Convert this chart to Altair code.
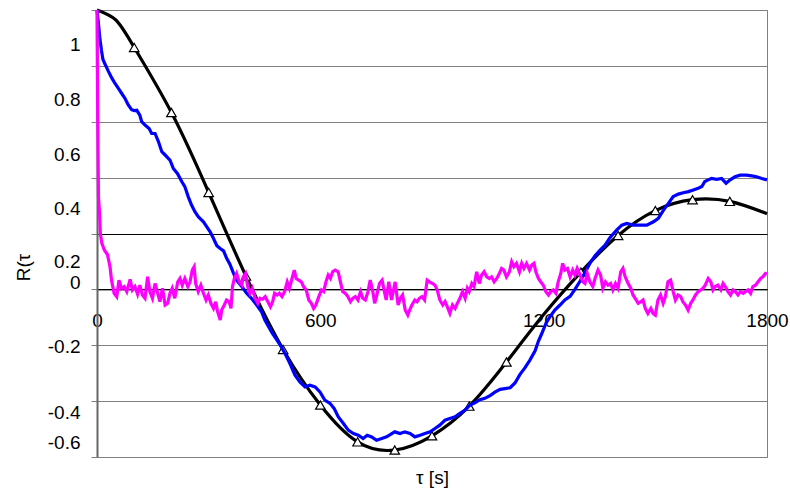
import altair as alt
import pandas as pd

# ---------------- data ----------------
tau_black = [0, 50, 100, 200, 300, 400, 500, 600, 700, 800, 900, 1000,
             1100, 1200, 1300, 1400, 1500, 1600, 1700, 1800]
r_black = [1.0, 0.965, 0.866, 0.633, 0.347, 0.048, -0.215, -0.414, -0.546, -0.575,
           -0.524, -0.418, -0.26, -0.09, 0.062, 0.193, 0.282, 0.321, 0.315, 0.271]
marker_tau = [100, 200, 300, 400, 500, 600, 700, 800, 900, 1000, 1100,
              1300, 1400, 1500, 1600, 1700]

tau_blue = [0, 4, 8, 12, 16, 22, 30, 40, 48, 57, 66, 75, 84, 93, 100, 107, 115, 120,
            129, 140, 147, 156, 165, 174, 183, 196, 205, 216, 228, 236, 245, 254, 263,
            272, 286, 295, 304, 313, 322, 331, 340, 348, 357, 366, 375, 389, 402, 415,
            429, 442, 451, 470, 492, 505, 518, 532, 545, 559, 572, 586, 599, 612, 626,
            637, 648, 662, 675, 689, 702, 715, 726, 738, 751, 765, 778, 792, 800, 814,
            827, 841, 854, 868, 881, 895, 908, 921, 935, 948, 962, 975, 989, 1002, 1015,
            1029, 1042, 1056, 1069, 1083, 1096, 1110, 1123, 1136, 1150, 1163, 1177, 1186,
            1195, 1206, 1217, 1230, 1244, 1257, 1271, 1284, 1298, 1311, 1324, 1338, 1351,
            1365, 1378, 1396, 1410, 1423, 1441, 1459, 1477, 1495, 1508, 1522, 1535, 1548,
            1562, 1575, 1589, 1602, 1615, 1625, 1633, 1642, 1651, 1665, 1678, 1690, 1701,
            1714, 1728, 1745, 1759, 1772, 1786, 1800]
r_blue = [1.0, 0.95, 0.895, 0.855, 0.823, 0.805, 0.782, 0.756, 0.738, 0.72, 0.702, 0.684,
          0.66, 0.643, 0.64, 0.641, 0.624, 0.6, 0.588, 0.576, 0.558, 0.558, 0.529, 0.493,
          0.481, 0.463, 0.433, 0.415, 0.385, 0.368, 0.332, 0.302, 0.278, 0.26, 0.242, 0.224,
          0.206, 0.182, 0.156, 0.146, 0.138, 0.112, 0.09, 0.06, 0.033, 0.01, -0.014, -0.032,
          -0.056, -0.08, -0.11, -0.155, -0.199, -0.229, -0.265, -0.307, -0.331, -0.349,
          -0.343, -0.349, -0.367, -0.396, -0.408, -0.426, -0.456, -0.48, -0.504, -0.516,
          -0.522, -0.534, -0.522, -0.528, -0.54, -0.534, -0.528, -0.516, -0.51, -0.516,
          -0.51, -0.516, -0.528, -0.522, -0.516, -0.51, -0.498, -0.486, -0.468, -0.462,
          -0.456, -0.444, -0.432, -0.414, -0.406, -0.395, -0.39, -0.38, -0.368, -0.358,
          -0.355, -0.352, -0.335, -0.305, -0.28, -0.253, -0.22, -0.185, -0.158, -0.122,
          -0.098, -0.074, -0.056, -0.038, -0.025, 0.0, 0.03, 0.06, 0.093, 0.12, 0.14, 0.158,
          0.185, 0.212, 0.23, 0.236, 0.23, 0.23, 0.23, 0.242, 0.254, 0.284, 0.308, 0.332,
          0.341, 0.346, 0.35, 0.356, 0.362, 0.368, 0.386, 0.392, 0.397, 0.394, 0.397, 0.38,
          0.392, 0.403, 0.409, 0.409, 0.406, 0.403, 0.397, 0.392]

tau_mag = [0, 2, 4, 7, 9, 13, 20, 28, 35, 39, 46, 53, 59, 66, 73, 80, 89, 95, 102, 109,
           115, 122, 129, 136, 142, 149, 156, 163, 169, 176, 183, 190, 196, 202, 209, 217,
           223, 229, 236, 244, 250, 256, 261, 265, 272, 279, 286, 293, 299, 306, 313, 319,
           324, 331, 335, 342, 348, 355, 360, 364, 369, 375, 382, 389, 393, 399, 405, 411,
           417, 425, 432, 438, 445, 452, 459, 466, 472, 477, 484, 490, 497, 504, 511, 517,
           524, 530, 535, 542, 549, 555, 562, 569, 576, 582, 588, 596, 603, 609, 615, 621,
           627, 633, 640, 648, 654, 660, 667, 674, 681, 687, 694, 701, 708, 714, 721, 728,
           734, 741, 746, 752, 759, 766, 772, 777, 784, 791, 797, 801, 809, 815, 821, 828,
           835, 840, 846, 854, 860, 866, 873, 880, 887, 893, 902, 908, 914, 921, 929, 935,
           941, 948, 955, 962, 968, 975, 982, 989, 995, 1000, 1007, 1013, 1020, 1027, 1033,
           1040, 1047, 1054, 1060, 1067, 1074, 1081, 1087, 1093, 1100, 1108, 1114, 1120,
           1127, 1135, 1141, 1147, 1154, 1162, 1168, 1174, 1179, 1186, 1192, 1199, 1206,
           1213, 1219, 1226, 1233, 1239, 1246, 1251, 1257, 1264, 1271, 1278, 1284, 1290,
           1298, 1305, 1311, 1317, 1324, 1332, 1338, 1346, 1353, 1359, 1366, 1373, 1380,
           1386, 1393, 1400, 1407, 1413, 1419, 1427, 1434, 1440, 1446, 1454, 1461, 1467,
           1473, 1480, 1488, 1494, 1500, 1507, 1514, 1521, 1527, 1534, 1541, 1548, 1554,
           1561, 1568, 1574, 1581, 1588, 1595, 1601, 1608, 1615, 1622, 1628, 1634, 1642,
           1649, 1655, 1661, 1668, 1676, 1682, 1688, 1695, 1702, 1709, 1715, 1722, 1729,
           1736, 1742, 1749, 1756, 1762, 1769, 1776, 1783, 1789, 1796, 1800]
r_mag = [1.0, 0.6, 0.33, 0.27, 0.2, 0.165, 0.14, 0.125, 0.081, 0.033, -0.014, -0.026,
         0.033, 0.003, 0.01, -0.008, 0.036, -0.002, 0.01, -0.017, 0.015, -0.02, -0.032,
         0.045, -0.008, -0.032, 0.021, -0.014, -0.044, 0.004, -0.056, -0.05, -0.014, 0.004,
         -0.032, 0.027, 0.039, 0.015, 0.039, 0.01, 0.027, 0.069, 0.081, 0.021, -0.008,
         0.015, -0.014, -0.038, -0.02, -0.05, -0.068, -0.044, -0.08, -0.11, -0.074, -0.056,
         -0.038, -0.044, -0.068, 0.01, 0.039, 0.057, 0.027, 0.015, 0.045, 0.057, 0.01,
         -0.014, 0.004, -0.032, -0.05, -0.032, -0.035, -0.026, -0.044, -0.062, -0.044,
         -0.014, -0.02, -0.014, -0.026, -0.008, 0.027, 0.004, 0.039, 0.069, 0.039, 0.033,
         0.027, 0.01, -0.002, -0.038, -0.05, -0.068, -0.056, -0.026, -0.002, -0.008, 0.027,
         0.051, 0.039, 0.063, 0.069, 0.063, 0.027, -0.008, -0.014, -0.026, -0.044, -0.032,
         -0.026, -0.038, -0.008, -0.032, -0.038, -0.008, 0.033, -0.008, -0.05, -0.02, 0.021,
         0.033, -0.008, -0.038, 0.027, -0.038, -0.002, 0.027, -0.056, -0.032, -0.02, -0.074,
         -0.092, -0.074, -0.056, -0.038, -0.044, -0.032, -0.026, -0.038, 0.033, 0.027, 0.021,
         0.015, -0.002, -0.038, -0.056, -0.044, -0.062, -0.086, -0.056, -0.068, -0.05,
         -0.032, -0.008, -0.032, 0.004, -0.008, 0.021, 0.01, 0.063, 0.021, 0.051, 0.063,
         0.045, 0.039, 0.045, 0.027, 0.039, 0.057, 0.075, 0.069, 0.045, 0.063, 0.099, 0.081,
         0.093, 0.063, 0.093, 0.075, 0.093, 0.069, 0.087, 0.093, 0.063, 0.039, 0.027, 0.015,
         -0.008, -0.02, -0.008, -0.002, -0.014, 0.027, 0.057, 0.093, 0.069, 0.075, 0.045,
         0.069, 0.051, 0.075, 0.051, 0.027, 0.021, 0.057, 0.027, 0.01, 0.039, 0.069, 0.051,
         0.004, 0.027, 0.015, 0.021, -0.002, 0.021, 0.004, 0.063, 0.075, 0.045, 0.021, 0.004,
         -0.02, -0.032, -0.05, -0.044, -0.038, -0.068, -0.086, -0.068, -0.086, -0.092,
         -0.038, -0.02, -0.05, -0.026, 0.027, 0.033, -0.008, -0.038, -0.02, -0.026, -0.044,
         -0.056, -0.074, -0.05, -0.038, -0.02, -0.008, -0.002, 0.004, 0.015, 0.039, 0.027,
         -0.002, 0.01, 0.015, -0.002, 0.021, 0.01, -0.008, -0.02, -0.002, -0.008, -0.02,
         -0.008, -0.014, -0.008, -0.002, -0.014, 0.01, 0.015, 0.027, 0.039, 0.045, 0.057,
         0.055]

# axis content
grid_vals = [-0.6, -0.4, -0.2, 0.0, 0.2, 0.4, 0.6, 0.8, 1.0]
dark_grid_vals = [0.0, 0.2]
ylabel_text = ["1", "0.8", "0.6", "0.4", "0.2", "0", "-0.2", "-0.4", "-0.6"]
ylabel_pos = [0.875, 0.678, 0.481, 0.291, 0.098, 0.026, -0.206, -0.439, -0.547]
xtick_vals = [0, 600, 1200, 1800]

# ---------------- chart ----------------
black_df = pd.DataFrame({"tau": tau_black, "r": r_black})
marker_df = black_df[black_df["tau"].isin(marker_tau)]
blue_df = pd.DataFrame({"tau": tau_blue, "r": r_blue})
mag_df = pd.DataFrame({"tau": tau_mag, "r": r_mag})

FONT = "Liberation Sans"
W, H = 670, 447
ymin, ymax = -0.6, 1.0
zero_offset = H * ymax / (ymax - ymin) - H  # puts the x axis on r = 0


def js_list(vals):
    return "[" + ",".join(repr(float(v)) for v in vals) + "]"


pos_js = js_list(ylabel_pos)
txt_js = "[" + ",".join("'%s'" % t for t in ylabel_text) + "]"
grid_test = f"indexof({js_list(grid_vals)}, datum.value) >= 0"
dark_test = f"indexof({js_list(dark_grid_vals)}, datum.value) >= 0"
label_expr = (f"indexof({pos_js}, datum.value) >= 0 ? "
              f"{txt_js}[indexof({pos_js}, datum.value)] : ''")

x_enc = alt.X(
    "tau:Q",
    scale=alt.Scale(domain=[0, 1800], nice=False, zero=False),
    axis=alt.Axis(
        values=xtick_vals, format="d", grid=False, ticks=False, domainColor="black",
        domainWidth=1, labelFlush=False, labelOverlap=False, offset=zero_offset,
        labelPadding=22, labelFont=FONT, labelFontSize=19, labelColor="black",
        title="τ [s]", titleFont=FONT, titleFontSize=19, titleFontWeight="normal",
        titleColor="black", titleY=188, titleBaseline="middle",
    ),
)
y_enc = alt.Y(
    "r:Q",
    scale=alt.Scale(domain=[ymin, ymax], nice=False, zero=False),
    axis=alt.Axis(
        values=grid_vals + ylabel_pos, labelExpr=label_expr, labelOverlap=False,
        labelFlush=False,
        grid=True,
        gridColor={"condition": {"test": dark_test, "value": "black"}, "value": "#808080"},
        gridOpacity={"condition": {"test": grid_test, "value": 1}, "value": 0},
        gridWidth=1,
        ticks=True, tickSize=6, tickColor="#808080",
        tickOpacity={"condition": {"test": grid_test, "value": 1}, "value": 0},
        domainColor="#666666", domainWidth=2,
        labelPadding=11, labelFont=FONT, labelFontSize=19, labelColor="black",
        title="R(τ", titleFont=FONT, titleFontSize=19, titleFontWeight="normal",
        titleColor="black", titleAngle=270, titleX=-74, titleY=257,
        titleAlign="center", titleBaseline="middle",
    ),
)

black_line = alt.Chart(black_df).mark_line(
    color="black", strokeWidth=3.2, interpolate="natural"
).encode(x=x_enc, y=y_enc)

markers = alt.Chart(marker_df).mark_point(
    shape="triangle-up", size=90, filled=True, fill="white", stroke="black",
    strokeWidth=1.2, opacity=1
).encode(x=x_enc, y=y_enc)

blue_line = alt.Chart(blue_df).mark_line(color="#0000FF", strokeWidth=3.2).encode(
    x=x_enc, y=y_enc)

mag_line = alt.Chart(mag_df).mark_line(color="#FF00FF", strokeWidth=3.2).encode(
    x=x_enc, y=y_enc)

chart = alt.layer(black_line, markers, blue_line, mag_line).properties(
    width=W, height=H,
    autosize=alt.AutoSizeParams(type="none"),
    padding={"left": 97, "top": 10, "right": 23, "bottom": 31},
    background="white",
).configure_view(stroke="#808080", strokeWidth=1)

chart.save("out.html", embed_options={"renderer": "svg", "actions": False})
